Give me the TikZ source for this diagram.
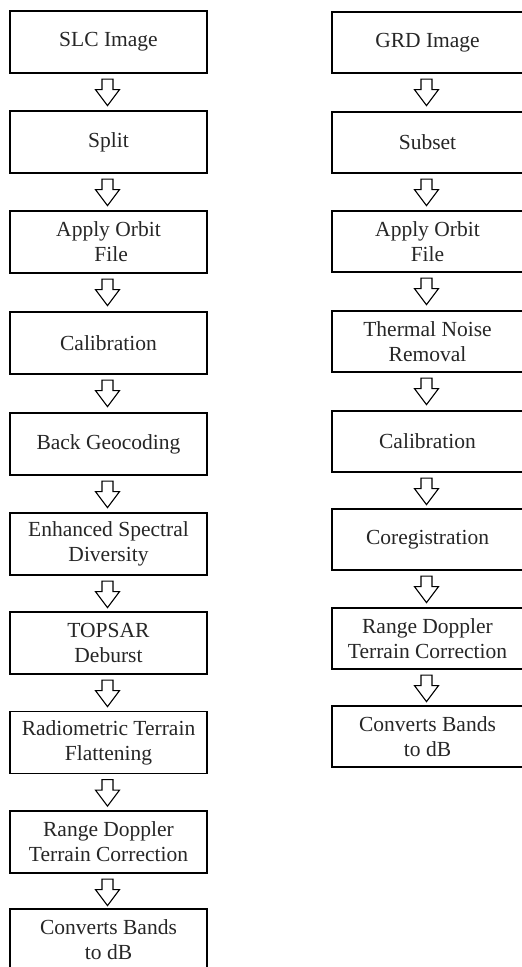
\documentclass[tikz,border=0pt]{standalone}
\usepackage{fontspec}
\setmainfont{Liberation Serif}
\begin{document}
\begin{tikzpicture}[x=1pt,y=-1pt,
  stepbox/.style={draw=black, line width=1.2pt, rectangle, align=center, inner sep=0pt,
    font=\fontsize{21.5}{25}\selectfont, text=black!85},
  lbox/.style={stepbox, minimum width=197pt, minimum height=62pt},
  rbox/.style={stepbox, minimum width=191pt, minimum height=61pt},
  blockarrow/.pic={\draw[line width=1.1pt, fill=white, line join=miter]
    (-5.5,5.5) -- (5.5,5.5) -- (5.5,16) -- (12,16) -- (0,32) -- (-12,16) -- (-5.5,16) -- cycle;}
]
\useasboundingbox (0,0) rectangle (522,967);
% left column
\node[lbox] (l1) at (108.5,42) {SLC Image};
\node[lbox] (l2) at (108.5,142) {Split};
\node[lbox] (l3) at (108.5,242) {Apply Orbit\\ \ File};
\node[lbox] (l4) at (108.5,343) {Calibration};
\node[lbox] (l5) at (108.5,444) {Back Geocoding};
\node[lbox] (l6) at (108.5,544) {Enhanced Spectral\\Diversity};
\node[lbox] (l7) at (108.5,643) {TOPSAR\\Deburst};
\node[lbox] (l8) at (108.5,742.5) {Radiometric Terrain\\Flattening};
\node[lbox] (l9) at (108.5,842) {Range Doppler\\Terrain Correction};
\node[lbox] (l10) at (108.5,940) {Converts Bands\\to dB};
% right column
\node[rbox] (r1) at (427.5,42.5) {GRD Image};
\node[rbox] (r2) at (427.5,142.5) {Subset};
\node[rbox] (r3) at (427.5,241.5) {Apply Orbit\\File};
\node[rbox] (r4) at (427.5,341.5) {Thermal Noise\\Removal};
\node[rbox] (r5) at (427.5,441.5) {Calibration};
\node[rbox] (r6) at (427.5,539.5) {Coregistration};
\node[rbox] (r7) at (427.5,638.5) {Range Doppler\\Terrain Correction};
\node[rbox] (r8) at (427.5,736.5) {Converts Bands\\to dB};
% arrows
\foreach \a in {l1,l2,l3,l4,l5,l6,l7,l8,l9,r1,r2,r3,r4,r5,r6,r7}{
  \pic at ([xshift=-1pt]\a.south) {blockarrow};
}
\end{tikzpicture}
\end{document}
